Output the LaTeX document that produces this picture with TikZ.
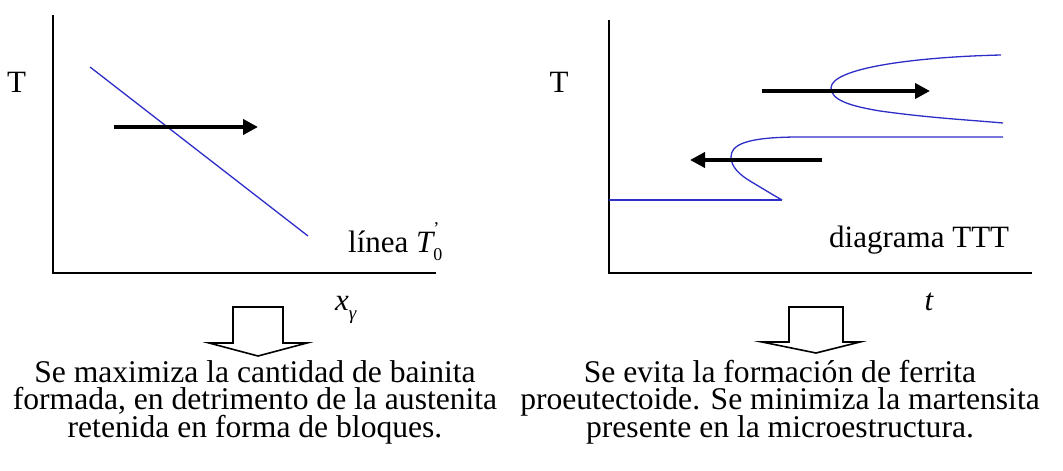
\documentclass[tikz,border=0pt]{standalone}
\usepackage{fontspec}
\setmainfont{Liberation Serif}
\usetikzlibrary{arrows.meta}
\definecolor{curveblue}{RGB}{45,45,200}
\newcommand\mytightlines{\lineskiplimit=-60pt\relax\lineskip=0pt\relax}
\tikzset{
  axis/.style={line width=1.6pt, black},
  curve/.style={line width=1.3pt, curveblue},
  movearrow/.style={line width=4pt, -{Triangle[length=15pt,width=15pt]}},
  bigdown/.style={line width=1.6pt, black, line join=miter},
  lbl/.style={inner sep=0pt, font=\fontsize{31}{26.7}\selectfont},
  para/.style={inner sep=0pt, align=center, font=\fontsize{31.6}{27.5}\selectfont\mytightlines}
}
\begin{document}
\begin{tikzpicture}[x=1pt,y=-1pt]
\useasboundingbox (0,0) rectangle (1063,471);
% ---------- left panel ----------
\coordinate (LO) at (53,273);
\coordinate (LY) at (53,15);
\coordinate (LX) at (436,273);
\draw[axis] (LY) -- (LO) -- (LX);
\coordinate (L1) at (90,67);
\coordinate (L2) at (308,236);
\draw[curve] (L1) -- (L2);
\coordinate (LA1) at (114,127);
\coordinate (LA2) at (258,127);
\draw[movearrow] (LA1) -- (LA2);
\node[lbl, anchor=base] (LT) at (16.5,92) {T};
\node[lbl, anchor=base west] (Llinea) at (348,252) {línea {\itshape T}\makebox[0pt][l]{\raisebox{-0.28em}{\fontsize{18}{18}\selectfont 0}}\raisebox{0.55em}{\fontsize{18}{18}\selectfont '}\hspace{6pt}};
\node[lbl, anchor=base west] (Lx) at (335,310) {{\itshape x}\raisebox{-0.3em}{\fontsize{19}{19}\selectfont\itshape γ}};
\draw[bigdown] (233,307) -- (283,307) -- (283,343) -- (307,343) -- (258,356) -- (209,343) -- (233,343) -- cycle;
\node[para] (Ltext) at (255,402) {Se maximiza la cantidad de bainita\\formada, en detrimento de la austenita\\retenida en forma de bloques.};
% ---------- right panel ----------
\coordinate (RO) at (609,273);
\coordinate (RY) at (609,20);
\coordinate (RX) at (1032,273);
\draw[axis] (RY) -- (RO) -- (RX);
\draw[curve] (1001,55) .. controls (915,57) and (831,68) .. (831,88)
  .. controls (831,100) and (850,106) .. (880,111)
  .. controls (930,118) and (970,120) .. (1003,123);
\draw[curve] (1003,137) -- (800,137) .. controls (745,137) and (731,145) .. (731,157)
  .. controls (731,167) and (740,175) .. (750,181) -- (775,196) -- (782,200);
\draw[curve] (609,200) -- (782,200);
\coordinate (RA1) at (762,91);
\coordinate (RA2) at (930,91);
\draw[movearrow] (RA1) -- (RA2);
\coordinate (RB1) at (822,160);
\coordinate (RB2) at (690,160);
\draw[movearrow] (RB1) -- (RB2);
\node[lbl, anchor=base] (RT) at (559,92) {T};
\node[lbl, anchor=base west] (Rdiag) at (829,247) {diagrama TTT};
\node[lbl, anchor=base] (Rt) at (929,310) {\itshape t};
\draw[bigdown] (789,307) -- (843,307) -- (843,342) -- (860,342) -- (816,353) -- (762,342) -- (789,342) -- cycle;
\node[para] (Rtext) at (780,402) {Se evita la formación de ferrita\\proeutectoide. Se minimiza la martensita\\presente en la microestructura.};
\end{tikzpicture}
\end{document}
